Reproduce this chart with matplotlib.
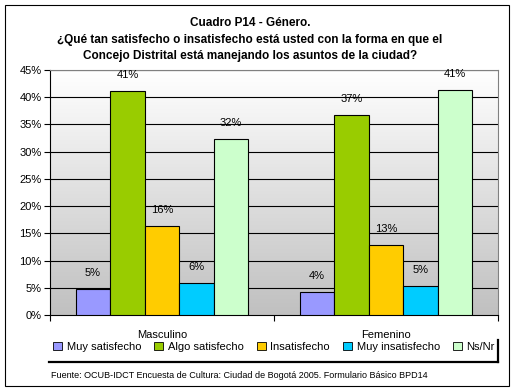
import numpy as np
import matplotlib
matplotlib.use('Agg')
import matplotlib.pyplot as plt
from matplotlib.patches import Rectangle
from matplotlib.lines import Line2D

plt.rcParams['font.family'] = ['Liberation Sans', 'DejaVu Sans']

# datos del gráfico
categorias = ['Masculino', 'Femenino']
series = ['Muy satisfecho', 'Algo satisfecho', 'Insatisfecho', 'Muy insatisfecho', 'Ns/Nr']
masculino = [4.7, 41.2, 16.3, 5.9, 32.4]
femenino = [4.3, 36.7, 12.8, 5.4, 41.4]
colores = ['#9999FF', '#99CC00', '#FFCC00', '#00CCFF', '#CCFFCC']
yticks = [0, 5, 10, 15, 20, 25, 30, 35, 40, 45]

titulo = ('Cuadro P14 - Género.\n'
          '¿Qué tan satisfecho o insatisfecho está usted con la forma en que el\n'
          'Concejo Distrital está manejando los asuntos de la ciudad?')
fuente = 'Fuente: OCUB-IDCT Encuesta de Cultura: Ciudad de Bogotá 2005. Formulario Básico BPD14'

W, H = 515, 391
fig = plt.figure(figsize=(W / 100, H / 100), dpi=100)
fig.patch.set_facecolor('white')

# marco exterior
fig.add_artist(Rectangle((5 / W, 1 - 386 / H), 504 / W, 381 / H, transform=fig.transFigure,
                         fill=False, edgecolor='black', linewidth=0.8))

# área de trazado
x0, x1, y0, y1 = 50, 498, 70, 315
ax = fig.add_axes([x0 / W, 1 - y1 / H, (x1 - x0) / W, (y1 - y0) / H])
ax.set_xlim(0, 2)
ax.set_ylim(0, 45)

# fondo degradado blanco -> gris
grad = np.linspace(0, 1, 256).reshape(-1, 1)
ax.imshow(grad, extent=[0, 2, 0, 45], aspect='auto', cmap=matplotlib.colors.LinearSegmentedColormap.from_list(
    'g', ['#c0c0c0', '#ffffff']), origin='lower', zorder=0)

for y in yticks[1:]:
    ax.axhline(y, color='black', linewidth=0.8, zorder=1)

datos = [masculino, femenino]
ancho = 0.154
for i, vals in enumerate(datos):
    centro = i + 0.5
    for j, v in enumerate(vals):
        xb = centro + (j - 2) * ancho
        ax.bar(xb, v, width=ancho, color=colores[j], edgecolor='black', linewidth=0.8, zorder=3)
        ax.annotate(f'{round(v):.0f}%', (xb, v), xytext=(0, 11.5), textcoords='offset points',
                    ha='center', va='center', fontsize=8, zorder=4)

ax.set_yticks(yticks)
ax.set_yticklabels([f'{t}%' for t in yticks], fontsize=8)
ax.set_xticks([0, 1, 2])
ax.set_xticklabels([])
ax.set_xticks([0.5, 1.5], minor=True)
ax.set_xticklabels(categorias, minor=True, fontsize=8)
ax.tick_params(axis='x', which='minor', length=0, pad=11)
ax.tick_params(axis='x', which='major', length=4, direction='out')
ax.tick_params(axis='y', length=4, direction='out', pad=2)
for s in ['top', 'right']:
    ax.spines[s].set_color('#808080')
    ax.spines[s].set_linewidth(0.8)
for s in ['left', 'bottom']:
    ax.spines[s].set_color('black')
    ax.spines[s].set_linewidth(0.8)

# título
fig.text(0.485, 1 - 17 / H, titulo, ha='center', va='top', fontsize=8.5, fontweight='bold',
         linespacing=1.5)

# leyenda
handles = [Rectangle((0, 0), 1, 1, facecolor=c, edgecolor='black', linewidth=0.6) for c in colores]
fig.legend(handles, series, loc='center', bbox_to_anchor=(274 / W, 1 - 347 / H), ncol=5,
           frameon=False, fontsize=8, handlelength=0.8, handleheight=0.8, handletextpad=0.4,
           columnspacing=1.2)
fig.add_artist(Line2D([49 / W, 498 / W], [1 - 362 / H, 1 - 362 / H], transform=fig.transFigure,
                      color='black', linewidth=1.6))
fig.add_artist(Line2D([498 / W, 498 / W], [1 - 340 / H, 1 - 362 / H], transform=fig.transFigure,
                      color='black', linewidth=1.6))

fig.text(51 / W, 1 - 376 / H, fuente, ha='left', va='center', fontsize=6.5)

fig.savefig('out.png', dpi=100)
